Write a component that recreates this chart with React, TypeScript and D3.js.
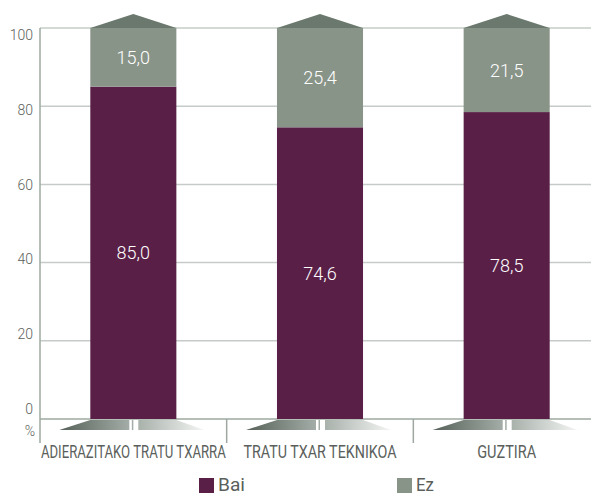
import React, { useLayoutEffect, useRef, useState } from "react";
import * as d3 from "d3";

const categories = ["ADIERAZITAKO TRATU TXARRA", "TRATU TXAR TEKNIKOA", "GUZTIRA"];
const baiValues = [85.0, 74.6, 78.5];
const ezValues = [15.0, 25.4, 21.5];
const yTicks = [0, 20, 40, 60, 80, 100];
const seriesNames = ["Bai", "Ez"];

const W = 591;
const H = 495;
const BAI = "#5a1f47";
const EZ = "#899489";
const CAP = "#6a786d";
const GRID = "#c5ccc7";
const AXIS = "#9ea8a1";
const TXT = "#5b5f5c";
const FONT = "Roboto, 'Noto Sans', sans-serif";

const labelWidths = [185, 153, 59];

export default function App() {
  const x = d3.scaleBand<string>().domain(categories).range([40, 600]).paddingInner(0.539).paddingOuter(0.2695);
  const y = d3.scaleLinear().domain([0, 100]).range([419, 28]);
  const yLab = d3.scaleLinear().domain([0, 100]).range([409, 35]);
  const fmt = (v: number) => v.toFixed(1).replace(".", ",");
  const bw = x.bandwidth();
  const step = x.step();

  const refs = useRef<(SVGTextElement | null)[]>([]);
  const [scales, setScales] = useState<number[]>([0.7, 0.7, 0.7]);
  useLayoutEffect(() => {
    const s = categories.map((_, i) => {
      const el = refs.current[i];
      if (!el) return 0.7;
      const w = el.getComputedTextLength();
      return w > 0 ? labelWidths[i] / w : 0.7;
    });
    setScales(s);
  }, []);

  return (
    <svg width={W} height={H} style={{ position: "absolute", left: 0, top: 0 }}>
      <defs>
        <linearGradient id="gl" x1="0" x2="1" y1="0" y2="0">
          <stop offset="0" stopColor="#56625a" />
          <stop offset="1" stopColor="#a3aca6" />
        </linearGradient>
        <linearGradient id="gr" x1="0" x2="1" y1="0" y2="0">
          <stop offset="0" stopColor="#a9b1ab" />
          <stop offset="1" stopColor="#f3f5f3" />
        </linearGradient>
      </defs>
      <rect width={W} height={H} fill="#fff" />
      {yTicks.map((t) => (
        <line key={t} x1={40} x2={W} y1={y(t)} y2={y(t)} stroke={t === 0 ? AXIS : GRID} strokeWidth={1.5} />
      ))}
      <line x1={40} x2={40} y1={y(100)} y2={443} stroke={AXIS} strokeWidth={1.5} />
      {categories.slice(1).map((c) => {
        const sx = (x(c) as number) - (step - bw) / 2;
        return <line key={c} x1={sx} x2={sx} y1={y(0)} y2={443} stroke={AXIS} strokeWidth={1.5} />;
      })}
      {yTicks.map((t) => (
        <text key={t} x={33} y={yLab(t) + 5} textAnchor="end" fontFamily={FONT} fontWeight={300} fontSize={14} fill={TXT}>
          {t}
        </text>
      ))}
      <text x={35} y={436} textAnchor="end" fontFamily={FONT} fontWeight={300} fontSize={14} fill={TXT}>%</text>
      {categories.map((c, i) => {
        const x0 = x(c) as number;
        const x1 = x0 + bw;
        const cx = x0 + bw / 2;
        const top = y(baiValues[i] + ezValues[i]);
        const y0 = y(0);
        return (
          <g key={c}>
            <polygon points={`${x0},${y0 + 1} ${cx - 4},${y0 + 1} ${cx - 4},${y0 + 11} ${x0 - 31},${y0 + 11}`} fill="url(#gl)" />
            <polygon points={`${cx + 5},${y0 + 1} ${x1},${y0 + 1} ${x1 + 28},${y0 + 11} ${cx + 5},${y0 + 11}`} fill="url(#gr)" />
            <rect x={cx - 1.5} y={y0 + 1} width={1.5} height={10} fill="#a3aca6" />
            <rect x={x0} y={y(baiValues[i])} width={bw} height={y0 - y(baiValues[i])} fill={BAI} />
            <rect x={x0} y={top} width={bw} height={y(baiValues[i]) - top} fill={EZ} />
            <polygon points={`${x0},${top} ${cx},${top - 14} ${x1},${top}`} fill={CAP} />
            <text x={cx} y={(y0 + y(baiValues[i])) / 2 + 6.5} textAnchor="middle" fontFamily={FONT} fontWeight={300} fontSize={18} fill="#fff">
              {fmt(baiValues[i])}
            </text>
            <text x={cx} y={(y(baiValues[i]) + top) / 2 + 6.5} textAnchor="middle" fontFamily={FONT} fontWeight={300} fontSize={18} fill="#fff">
              {fmt(ezValues[i])}
            </text>
            <text
              ref={(el) => { refs.current[i] = el; }}
              transform={`translate(${cx},458) scale(${scales[i]},1)`}
              textAnchor="middle"
              fontFamily={FONT}
              fontSize={17.5}
              fill={TXT}
            >
              {c}
            </text>
          </g>
        );
      })}
      {seriesNames.map((s, i) => {
        const lx = i === 0 ? 199 : 397;
        return (
          <g key={s}>
            <rect x={lx} y={478} width={15} height={15} fill={i === 0 ? BAI : EZ} />
            <text x={lx + 19} y={491} fontFamily={FONT} fontSize={18} fill={TXT} textLength={i === 0 ? 27 : 18} lengthAdjust="spacingAndGlyphs">
              {s}
            </text>
          </g>
        );
      })}
    </svg>
  );
}
